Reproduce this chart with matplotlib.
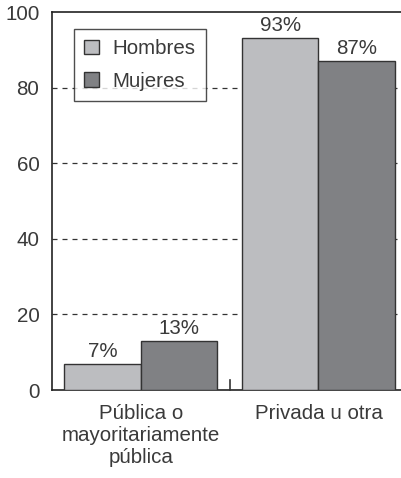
import matplotlib
matplotlib.use("Agg")
import matplotlib.pyplot as plt
import numpy as np

categories = ["Pública o\nmayoritariamente\npública", "Privada u otra"]
hombres = [7, 93]
mujeres = [13, 87]
series_names = ["Hombres", "Mujeres"]
yticks = [0, 20, 40, 60, 80, 100]

plt.rcParams['font.family'] = ['Liberation Sans', 'DejaVu Sans']
text_color = '#3a3a3a'
c_h = '#bcbdc0'
c_m = '#808184'
fs = 14.8

fig = plt.figure(figsize=(4.02, 4.78), dpi=100)
ax = fig.add_axes([52/402, 88/478, 350/402, 378/478])

x = np.arange(len(categories))
w = 0.43
b1 = ax.bar(x - w/2, hombres, w, color=c_h, edgecolor='#333333', linewidth=1.0, label=series_names[0], zorder=3)
b2 = ax.bar(x + w/2, mujeres, w, color=c_m, edgecolor='#333333', linewidth=1.0, label=series_names[1], zorder=3)

for rects, vals in ((b1, hombres), (b2, mujeres)):
    for r, v in zip(rects, vals):
        ax.text(r.get_x() + r.get_width()/2, v + 0.8, f"{v}%", ha='center', va='bottom',
                fontsize=fs, color=text_color, zorder=4)

ax.set_xlim(-0.5, 1.47)
ax.set_ylim(0, 100)
ax.set_yticks(yticks)
ax.set_yticklabels([str(t) for t in yticks], fontsize=fs, color=text_color)
for t in yticks[1:-1]:
    ax.axhline(t, color='#333333', linewidth=0.9, linestyle=(0, (4, 4)), zorder=1)

ax.set_xticks(x)
ax.set_xticklabels(categories, fontsize=fs, color=text_color, linespacing=1.2)
ax.tick_params(axis='x', length=0, pad=10)
ax.tick_params(axis='y', length=0, pad=9)
# middle separator tick
ax.plot([0.5, 0.5], [0, 2.7], color='#333333', linewidth=1.2, zorder=4, clip_on=False)

for s in ['left', 'bottom', 'top']:
    ax.spines[s].set_color('#222222')
    ax.spines[s].set_linewidth(1.2)
ax.spines['right'].set_visible(False)

leg = ax.legend(loc='upper left', bbox_to_anchor=(22/350, 1 - 17/378), fontsize=fs,
                frameon=True, fancybox=False, edgecolor='#222222', borderpad=0.5,
                handlelength=0.72, handleheight=0.72, handletextpad=0.65, labelspacing=0.65,
                borderaxespad=0)
leg.get_frame().set_linewidth(1.0)
leg.set_zorder(5)
for t in leg.get_texts():
    t.set_color(text_color)

fig.savefig("out.png", dpi=100)
